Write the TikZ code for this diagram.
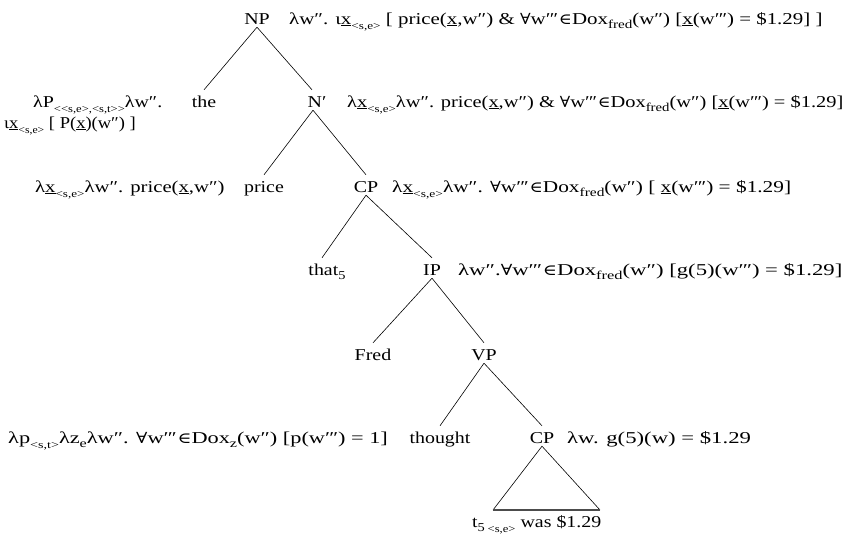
\documentclass[tikz,border=0pt]{standalone}
\usepackage{fontspec}
\usepackage{graphicx}
\setmainfont[FakeStretch=1.2]{Liberation Serif}
\newfontfamily\symf[FakeStretch=1.1,Scale=0.92]{DejaVu Serif}
\newcommand\lo[1]{\raisebox{-0.32em}{\fontsize{10.5}{11}\selectfont #1}}
\newcommand\lb[1]{\raisebox{-0.3em}{\fontsize{12}{12}\selectfont #1}}
\newcommand\sSE{\lo{<s,e>}}
\newcommand\sST{\lo{<s,t>}}
\newcommand\ux{\underline{x}}
\newcommand\wA{w″}
\newcommand\wB{w″\kern-0.06em′}
\newcommand\fA{{\symf ∀}}
\newcommand\eL{\kern0.05em{\symf ∈}}
\newcommand\dox[1]{Dox\lb{#1}}
\newcommand\sx[2]{\scalebox{#1}[1]{#2}}
\begin{document}
\begin{tikzpicture}[x=1pt,y=-1pt,
  txt/.style={font=\fontsize{16.6}{20}\selectfont, inner sep=0pt},
  tn/.style={txt, anchor=base, text height=14pt, text depth=0pt, inner ysep=3pt, inner xsep=0pt},
  ann/.style={txt, anchor=base west},
  br/.style={line width=0.6pt, black}]
\useasboundingbox (0,0) rectangle (854,536);
% tree nodes
\node[tn] (np) at (257,24) {NP};
\node[tn] (the) at (204,107) {the};
\node[tn] (nbar) at (317,107) {N′};
\node[tn] (price) at (264,192) {price};
\node[tn] (cp1) at (366,192) {CP};
\node[tn] (that) at (327,275) {that\lb{5}};
\node[tn] (ip) at (432,275) {IP};
\node[tn] (fred) at (373,360) {Fred};
\node[tn] (vp) at (484,360) {VP};
\node[tn] (thought) at (440,443) {thought};
\node[tn] (cp2) at (542,443) {CP};
\node[ann] (bot) at (472,527) {t\lb{5}\,\lo{<s,e>} was \$1.29};
\coordinate (tl) at (493,510);
\coordinate (tr) at (600,510);
% branches
\draw[br] (np.south) -- (the.north);
\draw[br] (np.south) -- ([xshift=-5pt]nbar.north);
\draw[br] ([xshift=-4pt]nbar.south) -- (price.north);
\draw[br] ([xshift=-4pt]nbar.south) -- (cp1.north);
\draw[br] (cp1.south) -- ([xshift=-5pt]that.north);
\draw[br] (cp1.south) -- (ip.north);
\draw[br] (ip.south) -- (fred.north);
\draw[br] (ip.south) -- (vp.north);
\draw[br] (vp.south) -- (thought.north);
\draw[br] (vp.south) -- (cp2.north);
\draw[br] (tl) -- (cp2.south) -- (tr);
\draw[line width=1.1pt, black!70] (tl) -- (tr);
% annotations
\node[ann] (a1) at (289,24) {\sx{1.05}{λ\wA. ι\ux\sSE\ [ price(\ux,\wA) \& \fA\wB\eL\dox{fred}(\wA) [\ux(\wB) = \$1.29] ]}};
\node[ann] (a2) at (33,107) {\sx{1.0}{λP\lo{<{}<s,e>{},<s,t>{}>}λ\wA.}};
\node[ann] (a2b) at (4,128) {\sx{0.93}{ι\ux\sSE\ [ P(\ux)(\wA) ]}};
\node[ann] (a3) at (347,107) {\sx{1.025}{λ\ux\sSE λ\wA. price(\ux,\wA) \& \fA\wB\eL\dox{fred}(\wA) [\ux(\wB) = \$1.29]}};
\node[ann] (a4) at (35,192) {\sx{1.04}{λ\ux\sSE λ\wA. price(\ux,\wA)}};
\node[ann] (a5) at (392,192) {\sx{1.07}{λ\ux\sSE λ\wA. \fA\wB\eL\dox{fred}(\wA) [ \ux(\wB) = \$1.29]}};
\node[ann] (a6) at (458,275) {\sx{1.14}{λ\wA.\fA\wB\eL\dox{fred}(\wA) [g(5)(\wB) = \$1.29]}};
\node[ann] (a7) at (8,443) {\sx{1.12}{λp\sST λz\lb{e}λ\wA. \fA\wB\eL\dox{z}(\wA) [p(\wB) = 1]}};
\node[ann] (a8) at (567,443) {\sx{1.14}{λw. g(5)(w) = \$1.29}};
\end{tikzpicture}
\end{document}
